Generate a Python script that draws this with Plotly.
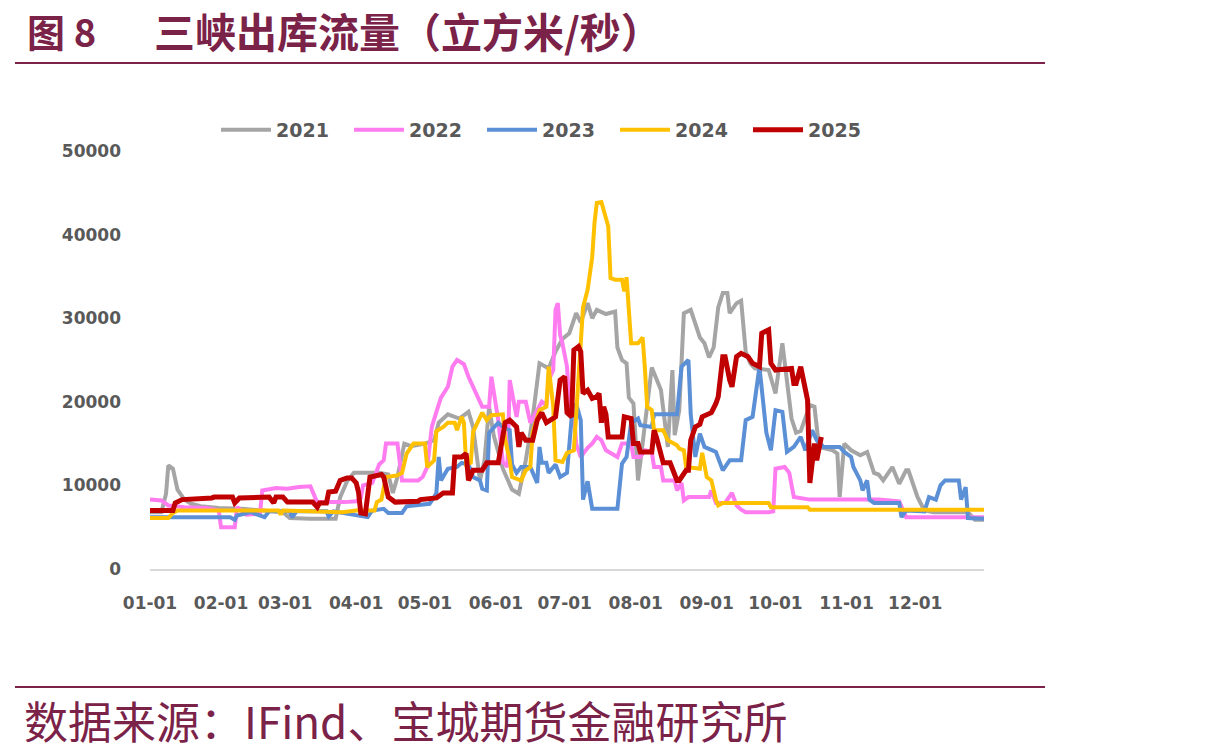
import plotly.graph_objects as go

# Day-of-year (0 = Jan 1) and outflow (m3/s)
days_2021 = [0, 5, 7, 8, 10, 12, 15, 18, 22, 30, 40, 50, 58, 61, 70, 81, 83, 86, 89, 100, 104, 106, 108, 111, 114, 120, 124, 126, 130, 135, 139, 141, 144, 146, 148, 150, 154, 158, 161, 164, 167, 170, 174, 177, 180, 183, 186, 188, 191, 193, 195, 199, 203, 204, 206, 208, 209, 211, 213, 215, 219, 223, 226, 228, 229, 231, 233, 236, 238, 240, 242, 244, 246, 248, 250, 252, 253, 256, 258, 260, 262, 264, 270, 273, 276, 278, 280, 282, 284, 288, 290, 292, 298, 300, 301, 303, 306, 310, 313, 316, 318, 320, 322, 324, 327, 330, 331, 333, 335, 338, 342, 357, 360, 364]
vals_2021 = [6800, 6800, 9000, 12400, 12000, 9500, 8300, 7800, 7500, 7300, 7200, 7000, 6800, 6100, 6000, 6000, 8600, 10500, 11500, 11500, 11300, 9100, 11000, 15000, 14700, 15000, 15400, 17500, 18500, 18000, 18800, 17000, 10600, 13000, 19400, 16000, 12000, 9500, 9000, 13000, 18000, 24600, 24000, 26000, 27500, 28200, 30600, 29500, 31800, 30000, 31000, 30500, 30800, 26500, 25000, 24600, 20500, 19800, 10600, 15000, 24100, 21400, 14600, 23800, 16000, 19000, 30600, 31000, 29400, 27700, 27000, 25300, 26500, 31300, 33000, 33000, 30600, 31800, 32100, 26000, 24600, 24000, 23800, 21000, 27000, 22000, 18000, 16300, 16500, 19600, 19400, 14600, 14200, 13800, 8600, 15000, 14200, 13600, 14000, 11500, 11300, 10600, 11500, 12200, 10200, 11800, 11800, 10000, 8600, 7000, 6800, 6800, 5900, 5900]

days_2022 = [0, 5, 8, 15, 25, 30, 31, 37, 38, 42, 48, 49, 55, 60, 65, 70, 72, 73, 85, 90, 92, 93, 97, 100, 102, 103, 108, 110, 117, 119, 121, 123, 125, 127, 130, 132, 134, 137, 139, 141, 143, 145, 148, 149, 152, 154, 156, 157, 160, 161, 164, 166, 169, 171, 173, 174, 176, 177, 178, 179, 180, 182, 183, 185, 186, 188, 191, 193, 195, 197, 199, 204, 206, 210, 211, 214, 216, 219, 220, 223, 224, 229, 230, 232, 233, 235, 244, 245, 247, 251, 254, 256, 258, 260, 270, 272, 273, 277, 279, 281, 288, 318, 327, 330, 364]
vals_2022 = [8300, 8200, 7600, 7400, 7300, 7000, 5000, 5000, 7400, 6500, 6600, 9400, 9700, 9600, 9800, 9900, 8600, 8000, 8000, 8100, 8500, 10000, 10300, 12500, 13000, 15000, 15000, 10600, 10600, 11000, 12200, 17000, 18800, 20500, 21800, 24200, 25000, 24500, 23000, 21800, 20600, 19400, 19400, 23000, 17800, 12800, 12200, 22600, 18200, 20000, 20000, 17500, 19000, 20000, 19600, 22600, 23800, 31000, 31800, 28000, 27000, 24200, 20000, 18700, 15000, 13400, 14500, 15000, 15800, 15400, 14200, 13400, 15000, 15000, 13400, 13400, 14200, 14000, 12200, 12200, 10600, 10600, 9400, 10300, 8200, 8600, 8600, 9400, 7900, 7900, 9100, 7600, 7100, 6800, 6800, 6900, 12000, 12200, 11500, 8600, 8300, 8300, 8100, 6200, 6200]

days_2023 = [0, 35, 37, 38, 44, 50, 52, 61, 62, 64, 77, 78, 80, 90, 92, 95, 97, 102, 104, 110, 112, 122, 124, 125, 126, 127, 130, 134, 136, 139, 141, 144, 145, 147, 148, 152, 155, 157, 158, 160, 162, 166, 169, 170, 171, 173, 174, 177, 179, 182, 184, 186, 188, 189, 191, 193, 204, 206, 208, 210, 213, 214, 219, 220, 230, 232, 235, 236, 238, 240, 242, 247, 250, 253, 258, 260, 263, 266, 269, 271, 273, 276, 278, 281, 284, 286, 289, 291, 294, 301, 303, 306, 307, 310, 311, 313, 314, 316, 327, 328, 330, 338, 340, 343, 345, 347, 353, 354, 356, 357, 364]
vals_2023 = [6200, 6200, 5900, 6400, 6800, 6200, 6900, 6900, 6200, 6900, 6900, 6300, 6900, 6500, 6300, 6200, 7000, 7200, 6700, 6700, 7500, 7800, 8600, 9100, 13400, 10600, 12000, 12200, 12700, 12500, 11000, 10600, 9600, 9400, 16300, 17500, 16800, 16600, 12500, 11500, 12200, 12200, 10300, 14600, 12700, 12700, 11500, 12500, 11000, 11500, 18000, 19800, 17800, 8300, 10500, 7200, 7200, 12600, 13400, 17500, 18000, 17200, 17000, 18500, 18500, 24200, 25000, 18500, 13400, 16200, 14600, 14000, 11800, 13000, 13000, 17800, 18200, 24200, 16300, 14200, 19000, 18800, 14000, 14600, 15800, 14200, 16600, 15400, 14600, 14600, 14000, 13400, 12200, 10600, 9400, 10600, 8300, 7900, 7900, 6200, 7000, 6900, 8600, 8300, 10000, 10600, 10600, 8300, 9800, 6100, 6000]

days_2024 = [0, 8, 10, 12, 56, 57, 58, 84, 90, 98, 99, 101, 103, 108, 110, 112, 115, 120, 121, 123, 124, 125, 128, 130, 133, 134, 136, 137, 138, 140, 141, 145, 147, 149, 154, 155, 157, 158, 162, 164, 166, 167, 170, 173, 174, 176, 177, 180, 182, 185, 186, 189, 191, 193, 194, 195, 197, 198, 199, 200, 201, 203, 206, 207, 208, 210, 213, 215, 216, 217, 219, 220, 224, 226, 230, 231, 233, 234, 240, 241, 243, 245, 247, 248, 250, 270, 271, 287, 288, 364]
vals_2024 = [6100, 6100, 6700, 7000, 7000, 6500, 7000, 6800, 7000, 7000, 8000, 8300, 11000, 11200, 11500, 13800, 15000, 15000, 12200, 12800, 13000, 16500, 17000, 17500, 17500, 16600, 18200, 17500, 12500, 12700, 16400, 18700, 17800, 18400, 18500, 15500, 13000, 11000, 10600, 11800, 12200, 16300, 19000, 19400, 24200, 19400, 13000, 12800, 13900, 14200, 18700, 31300, 33400, 37300, 41400, 43800, 43900, 43000, 42000, 41000, 34800, 34600, 34600, 33200, 34900, 27000, 27000, 27700, 24000, 19400, 19000, 16600, 16600, 15400, 14800, 14400, 14200, 12200, 12000, 13900, 11000, 10600, 8300, 7600, 7900, 7900, 7400, 7400, 7100, 7100]

days_2025 = [0, 10, 11, 14, 27, 28, 36, 37, 39, 52, 54, 55, 58, 60, 71, 73, 74, 77, 78, 81, 83, 86, 88, 90, 91, 92, 94, 96, 101, 102, 104, 107, 117, 118, 125, 127, 128, 132, 133, 136, 138, 139, 141, 145, 147, 152, 153, 155, 157, 160, 161, 162, 164, 167, 169, 171, 173, 177, 179, 181, 182, 184, 185, 187, 188, 189, 191, 193, 195, 196, 197, 198, 199, 200, 206, 207, 210, 211, 213, 214, 219, 220, 221, 223, 224, 227, 229, 230, 231, 232, 234, 235, 236, 238, 240, 241, 245, 247, 248, 250, 251, 253, 254, 256, 258, 261, 263, 266, 267, 270, 271, 273, 280, 281, 282, 284, 285, 287, 288, 290, 291, 293]
vals_2025 = [7000, 7000, 7900, 8300, 8500, 8600, 8600, 7900, 8500, 8600, 7900, 8600, 8600, 8000, 8000, 7400, 7900, 7900, 9200, 9300, 10600, 10900, 10900, 10300, 9200, 6700, 6600, 11000, 11300, 11000, 8600, 8000, 8100, 8300, 8500, 8800, 9100, 9100, 13400, 13400, 13800, 10600, 11800, 11800, 12700, 12700, 14200, 17500, 17800, 17000, 14600, 16300, 15400, 15400, 17800, 18700, 17500, 18200, 22600, 23000, 18700, 18200, 26200, 26600, 26000, 21000, 21400, 20400, 20600, 21000, 17500, 19400, 18500, 15800, 15800, 18200, 18000, 15000, 15000, 14000, 14000, 16600, 15800, 13400, 12700, 12700, 11500, 10600, 10600, 11000, 11800, 11800, 15400, 17000, 17300, 18200, 18700, 19800, 20600, 25400, 25400, 22600, 21800, 25400, 25800, 25400, 24600, 24200, 28200, 28600, 24600, 23800, 24000, 22200, 22200, 24200, 22600, 20200, 10300, 15000, 13000, 15800]

month_tick_days = [0, 31, 59, 90, 120, 151, 181, 212, 243, 273, 304, 334]
month_tick_labels = ["01-01", "02-01", "03-01", "04-01", "05-01", "06-01", "07-01", "08-01", "09-01", "10-01", "11-01", "12-01"]
y_ticks = [0, 10000, 20000, 30000, 40000, 50000]

series = [
    ("2021", days_2021, vals_2021, "#A5A5A5", 4),
    ("2022", days_2022, vals_2022, "#FF7CF0", 4),
    ("2023", days_2023, vals_2023, "#5B8FD6", 4),
    ("2024", days_2024, vals_2024, "#FFC000", 4),
    ("2025", days_2025, vals_2025, "#C00000", 5),
]

fig = go.Figure()
for name, d, v, c, w in series:
    fig.add_trace(go.Scatter(x=d, y=v, mode="lines", name=name,
                             line=dict(color=c, width=w, shape="linear")))

W, H = 1217, 756
L, R, T, B = 150, 233, 151, 187
PW, PH = W - L - R, H - T - B


def px(x):
    return (x - L) / PW


def py(y):
    return (H - B - y) / PH


maroon = "#7B2248"
axis_font = dict(family="DejaVu Sans", size=17, color="#595959", weight="bold")

fig.update_layout(
    width=W, height=H,
    margin=dict(l=L, r=R, t=T, b=B, pad=0),
    paper_bgcolor="white", plot_bgcolor="white",
    showlegend=True,
    legend=dict(orientation="h", x=px(216), y=py(130),
                xanchor="left", yanchor="middle",
                font=dict(family="DejaVu Sans", size=19, color="#595959", weight="bold"),
                itemwidth=50, entrywidth=68, entrywidthmode="pixels",
                bgcolor="rgba(0,0,0,0)", traceorder="normal"),
    xaxis=dict(range=[0, 364], tickmode="array", tickvals=month_tick_days, ticktext=month_tick_labels,
               showgrid=False, zeroline=False, showline=True, linecolor="#D9D9D9", linewidth=2,
               ticks="", tickfont=axis_font, ticklabelstandoff=18),
    yaxis=dict(range=[0, 50000], tickmode="array", tickvals=y_ticks,
               ticktext=[str(t) for t in y_ticks],
               showgrid=False, zeroline=False, showline=False, ticks="",
               tickfont=axis_font, ticklabelstandoff=28),
)

# Title
fig.add_annotation(text="图 8", x=px(25), y=py(30), xref="paper", yref="paper",
                   xanchor="left", yanchor="middle", showarrow=False,
                   font=dict(family="Noto Sans CJK SC", size=38, color=maroon, weight="bold"))
fig.add_annotation(text="三峡出库流量（立方米/秒）", x=px(152), y=py(30), xref="paper", yref="paper",
                   xanchor="left", yanchor="middle", showarrow=False,
                   font=dict(family="Noto Sans CJK SC", size=41, color=maroon, weight="bold"))
# Footer
fig.add_annotation(text="数据来源：IFind、宝城期货金融研究所", x=px(22), y=py(720), xref="paper", yref="paper",
                   xanchor="left", yanchor="middle", showarrow=False,
                   font=dict(family="Noto Sans CJK SC", size=44, color=maroon))
# Rules
fig.add_shape(type="line", xref="paper", yref="paper", x0=px(15), x1=px(1045), y0=py(63), y1=py(63),
              line=dict(color=maroon, width=2))
fig.add_shape(type="line", xref="paper", yref="paper", x0=px(15), x1=px(1045), y0=py(687), y1=py(687),
              line=dict(color=maroon, width=2))

fig.write_html("out.html")
